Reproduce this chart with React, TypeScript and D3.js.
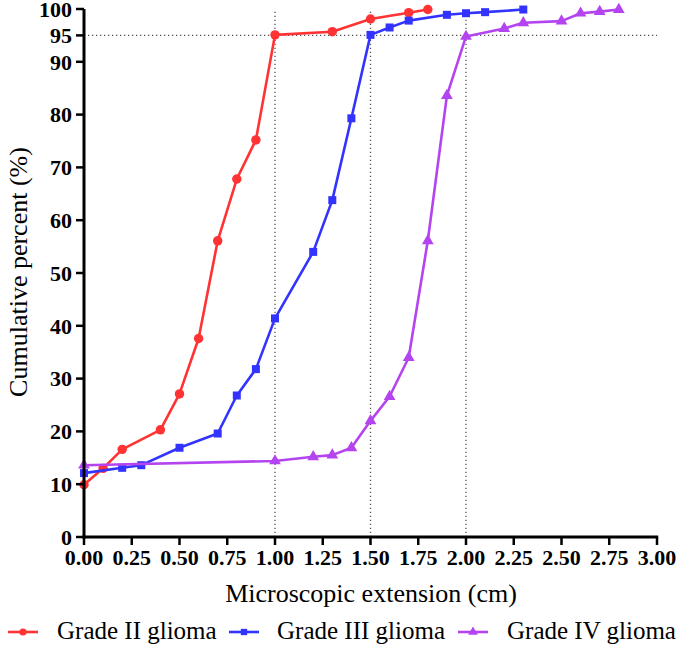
import React from "react";
import * as d3 from "d3";

const gradeIIx = [0, 0.1, 0.2, 0.4, 0.5, 0.6, 0.7, 0.8, 0.9, 1.0, 1.3, 1.5, 1.7, 1.8];
const gradeIIy = [9.9, 13.0, 16.6, 20.3, 27.1, 37.6, 56.1, 67.8, 75.2, 95.1, 95.7, 98.1, 99.3, 99.9];

const gradeIIIx = [0, 0.2, 0.3, 0.5, 0.7, 0.8, 0.9, 1.0, 1.2, 1.3, 1.4, 1.5, 1.6, 1.7, 1.9, 2.0, 2.1, 2.3];
const gradeIIIy = [12.1, 13.1, 13.6, 16.9, 19.6, 26.8, 31.8, 41.4, 54.0, 63.8, 79.3, 95.1, 96.5, 97.8, 98.9, 99.2, 99.4, 99.9];

const gradeIVx = [0, 1.0, 1.2, 1.3, 1.4, 1.5, 1.6, 1.7, 1.8, 1.9, 2.0, 2.2, 2.3, 2.5, 2.6, 2.7, 2.8];
const gradeIVy = [13.6, 14.4, 15.2, 15.5, 16.9, 22.0, 26.6, 34.0, 56.1, 83.6, 94.8, 96.3, 97.4, 97.7, 99.2, 99.5, 99.9];

const xTicks = [0, 0.25, 0.5, 0.75, 1.0, 1.25, 1.5, 1.75, 2.0, 2.25, 2.5, 2.75, 3.0];
const yTicks = [0, 10, 20, 30, 40, 50, 60, 70, 80, 90, 95, 100];
const refX = [1.0, 1.5, 2.0];
const refY = [95];

const seriesNames = ["Grade II glioma", "Grade III glioma", "Grade IV glioma"];
const seriesColors = ["#FF3333", "#3333FF", "#B444F0"];

const FONT = "Liberation Serif, DejaVu Serif, serif";

export default function App() {
  const width = 685;
  const height = 648;
  const x = d3.scaleLinear().domain([0, 3]).range([84, 657]);
  const y = d3.scaleLinear().domain([0, 100]).range([537, 9]);

  const series = [
    { xs: gradeIIx, ys: gradeIIy, sym: d3.symbolCircle, size: 70 },
    { xs: gradeIIIx, ys: gradeIIIy, sym: d3.symbolSquare, size: 64 },
    { xs: gradeIVx, ys: gradeIVy, sym: d3.symbolTriangle, size: 60 },
  ];

  const line = d3
    .line<[number, number]>()
    .x((d) => x(d[0]))
    .y((d) => y(d[1]));

  const legendItems = [
    { lx: 8, tx: 57 },
    { lx: 229, tx: 277 },
    { lx: 458, tx: 507 },
  ];

  return (
    <svg
      width={width}
      height={height}
      style={{ position: "absolute", left: 0, top: 0, background: "#fff" }}
    >
      {refX.map((v) => (
        <line
          key={"rx" + v}
          x1={x(v)}
          x2={x(v)}
          y1={y(0)}
          y2={y(100)}
          stroke="#555"
          strokeWidth={1.3}
          strokeDasharray="1.3,2.7"
        />
      ))}
      {refY.map((v) => (
        <line
          key={"ry" + v}
          x1={x(0)}
          x2={x(3)}
          y1={y(v)}
          y2={y(v)}
          stroke="#555"
          strokeWidth={1.3}
          strokeDasharray="1.3,2.7"
        />
      ))}

      {series.map((s, i) => {
        const pts = s.xs.map((v, j) => [v, s.ys[j]] as [number, number]);
        const sym = d3.symbol().type(s.sym).size(s.size)();
        return (
          <g key={i}>
            <path
              d={line(pts) || ""}
              fill="none"
              stroke={seriesColors[i]}
              strokeWidth={2.6}
              strokeLinejoin="round"
            />
            {pts.map((p, j) => (
              <path
                key={j}
                d={sym || ""}
                transform={`translate(${x(p[0])},${y(p[1])})`}
                fill={seriesColors[i]}
              />
            ))}
          </g>
        );
      })}

      <line x1={x(0)} x2={x(0)} y1={y(0) + 1.5} y2={y(100)} stroke="#000" strokeWidth={3} />
      <line x1={x(0) - 1.5} x2={x(3) + 1.2} y1={y(0)} y2={y(0)} stroke="#000" strokeWidth={3} />
      {yTicks.map((t) => (
        <g key={"yt" + t}>
          <line x1={x(0) - 8} x2={x(0)} y1={y(t)} y2={y(t)} stroke="#000" strokeWidth={2.5} />
          <text
            x={72}
            y={y(t)}
            dy="0.35em"
            textAnchor="end"
            fontFamily={FONT}
            fontWeight="bold"
            fontSize={22}
            fill="#000"
          >
            {t}
          </text>
        </g>
      ))}
      {xTicks.map((t) => (
        <g key={"xt" + t}>
          <line x1={x(t)} x2={x(t)} y1={y(0)} y2={y(0) + 8} stroke="#000" strokeWidth={2.5} />
          <text
            x={x(t)}
            y={565}
            textAnchor="middle"
            fontFamily={FONT}
            fontWeight="bold"
            fontSize={22}
            fill="#000"
          >
            {t.toFixed(2)}
          </text>
        </g>
      ))}

      <text
        x={371}
        y={602}
        textAnchor="middle"
        fontFamily={FONT}
        fontSize={26}
        fill="#000"
      >
        Microscopic extension (cm)
      </text>
      <text
        transform="translate(27,272) rotate(-90)"
        textAnchor="middle"
        fontFamily={FONT}
        fontSize={26}
        fill="#000"
      >
        Cumulative percent (%)
      </text>

      {legendItems.map((it, i) => {
        const sym = d3.symbol().type(series[i].sym).size(40)();
        return (
          <g key={"lg" + i}>
            <line
              x1={it.lx}
              x2={it.lx + 30}
              y1={632}
              y2={632}
              stroke={seriesColors[i]}
              strokeWidth={2.6}
            />
            <path d={sym || ""} transform={`translate(${it.lx + 15},632)`} fill={seriesColors[i]} />
            <text x={it.tx} y={639} fontFamily={FONT} fontSize={25} fill="#000">
              {seriesNames[i]}
            </text>
          </g>
        );
      })}
    </svg>
  );
}
